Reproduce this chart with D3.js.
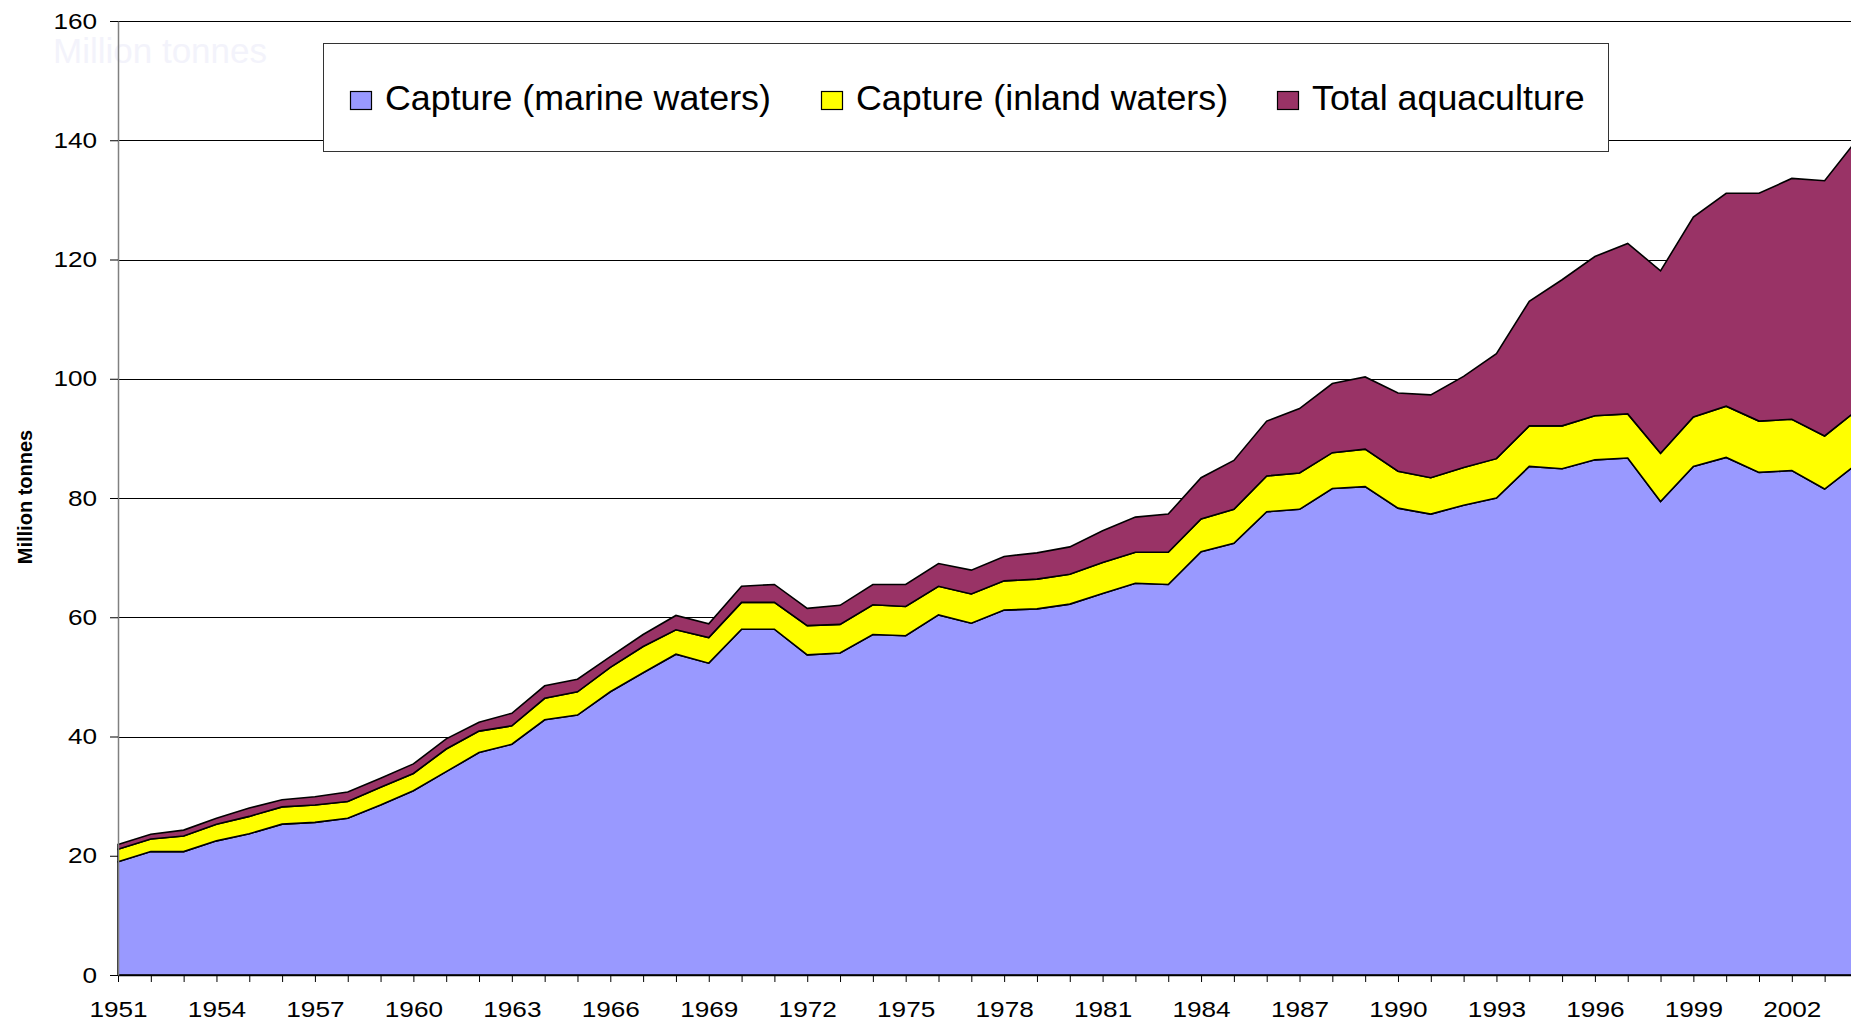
<!DOCTYPE html>
<html>
<head>
<meta charset="utf-8">
<script src="https://cdn.jsdelivr.net/npm/d3@7"></script>
<style>
html,body{margin:0;padding:0;background:#fff;overflow:hidden;}
svg{display:block;font-family:"Liberation Sans",Arial,sans-serif;}
</style>
</head>
<body>
<svg id="chart" width="1851" height="1024"></svg>
<script>
const years = d3.range(1951, 2005);
const marine = [19.0,20.7,20.7,22.5,23.7,25.3,25.6,26.3,28.5,30.9,34.1,37.3,38.7,42.8,43.6,47.5,50.7,53.8,52.3,58.0,58.0,53.7,54.0,57.1,56.9,60.4,59.0,61.2,61.4,62.2,64.0,65.7,65.5,71.0,72.4,77.7,78.1,81.6,81.9,78.3,77.3,78.8,80.0,85.3,84.9,86.4,86.7,79.4,85.3,86.8,84.3,84.6,81.5,85.8];
const inland = [2.1,2.1,2.6,2.8,2.9,2.9,2.9,2.8,3.0,2.9,3.8,3.6,3.1,3.6,3.9,4.1,4.4,4.1,4.3,4.5,4.5,4.9,4.8,5.0,4.9,4.8,4.9,4.9,5.0,5.0,5.2,5.2,5.4,5.5,5.7,6.0,6.1,6.0,6.3,6.2,6.1,6.3,6.6,6.8,7.2,7.4,7.4,8.1,8.3,8.6,8.6,8.6,8.9,9.0];
const aquaculture = [0.8,0.8,1.0,1.0,1.4,1.2,1.4,1.6,1.5,1.6,1.7,1.5,2.1,2.1,2.1,1.8,2.0,2.4,2.3,2.7,3.0,2.9,3.2,3.4,3.7,3.8,4.0,4.1,4.4,4.6,5.3,5.9,6.4,6.9,8.2,9.2,10.8,11.6,12.1,13.1,13.9,15.3,17.6,20.9,24.5,26.7,28.6,30.6,33.5,35.7,38.2,40.4,42.8,45.4];
const seriesNames = ["Capture (marine waters)", "Capture (inland waters)", "Total aquaculture"];
const seriesKeys = ["marine", "inland", "aquaculture"];
const seriesColors = ["#9999ff", "#ffff00", "#993366"];
const yTicks = [0,20,40,60,80,100,120,140,160];
const axisTitle = "Million tonnes";

const table = years.map((yr, i) => ({year: yr, marine: marine[i], inland: inland[i], aquaculture: aquaculture[i]}));

const svg = d3.select("#chart");
const x = d3.scaleLinear().domain([1951, 2004]).range([118, 118 + 53 * 32.82]);
const y = d3.scaleLinear().domain([0, 160]).range([975, 21]);

// ghost title
svg.append("text").attr("x", 53).attr("y", 63).attr("font-size", 35).attr("fill", "#f3f3fb").text(axisTitle);

// gridlines
svg.append("g").selectAll("line").data(yTicks.filter(d => d > 0)).join("line")
  .attr("x1", 118).attr("x2", 1851)
  .attr("y1", d => Math.round(y(d)) + 0.5).attr("y2", d => Math.round(y(d)) + 0.5)
  .attr("stroke", "#000").attr("stroke-width", 1);

// stacked areas
const stack = d3.stack().keys(seriesKeys);
const layers = stack(table);
const area = d3.area().x(d => x(d.data.year)).y0(d => y(d[0])).y1(d => y(d[1]));
svg.append("g").selectAll("path").data(layers).join("path")
  .attr("d", area)
  .attr("fill", (d, i) => seriesColors[i])
  .attr("stroke", "#000").attr("stroke-width", 1.6).attr("stroke-linejoin", "miter");

// x axis
const xAxis = d3.axisBottom(x).tickValues(years).tickSize(7).tickSizeOuter(0).tickPadding(19)
  .tickFormat(d => ((d - 1951) % 3 === 0 && d < 2004) ? String(d) : "");
const gx = svg.append("g").attr("transform", "translate(0,975)").call(xAxis);
gx.select(".domain").attr("stroke", "#000").attr("stroke-width", 1.5);
gx.selectAll(".tick line").attr("stroke", "#000");
gx.selectAll("text").attr("font-size", 22).attr("fill", "#000")
  .attr("font-family", "Liberation Sans, Arial, sans-serif").attr("transform", "scale(1.19,1)");

// y axis
const yAxis = d3.axisLeft(y).tickValues(yTicks).tickSize(8).tickSizeOuter(0).tickPadding(9.5);
const gy = svg.append("g").attr("transform", "translate(118,0)").call(yAxis);
gy.select(".domain").attr("stroke", "#808080").attr("stroke-width", 1.5);
gy.selectAll(".tick line").attr("stroke", "#000");
gy.selectAll("text").attr("font-size", 22).attr("fill", "#000")
  .attr("font-family", "Liberation Sans, Arial, sans-serif").attr("transform", "scale(1.19,1)");

// y axis title
svg.append("text").attr("transform", "translate(32,497) rotate(-90)")
  .attr("text-anchor", "middle").attr("font-size", 20).attr("font-weight", "bold").text(axisTitle);

// legend
const lg = svg.append("g");
lg.append("rect").attr("x", 323.5).attr("y", 43.5).attr("width", 1285).attr("height", 108)
  .attr("fill", "#fff").attr("stroke", "#333").attr("stroke-width", 1);
const legendX = [350, 821, 1277];
seriesNames.forEach((name, i) => {
  lg.append("rect").attr("x", legendX[i] + 0.5).attr("y", 91.5).attr("width", 21).attr("height", 18)
    .attr("fill", seriesColors[i]).attr("stroke", "#000").attr("stroke-width", 1.2);
  lg.append("text").attr("x", legendX[i] + 35).attr("y", 110).attr("font-size", 35.8).attr("fill", "#000").text(name);
});
</script>
</body>
</html>
